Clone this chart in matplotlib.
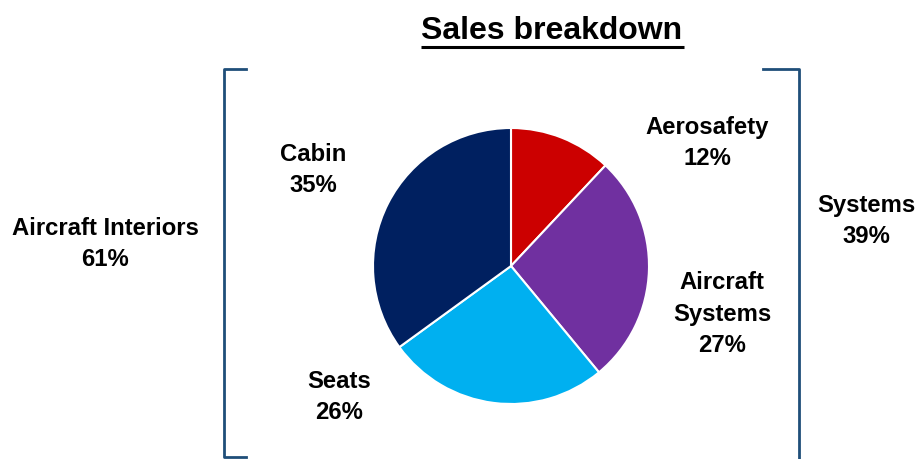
import matplotlib.pyplot as plt

plt.rcParams['font.family'] = ['Liberation Sans', 'DejaVu Sans']

# slices, clockwise from 12 o'clock
segments = ["Aerosafety", "Aircraft\nSystems", "Seats", "Cabin"]
shares = [12, 27, 26, 35]
colors = ["#CC0000", "#7030A0", "#00B0F0", "#002060"]

# group totals shown beside the brackets
groups = ["Aircraft Interiors", "Systems"]
group_shares = [61, 39]

W, H = 918, 459
fig = plt.figure(figsize=(W / 100, H / 100), dpi=100)
ax = fig.add_axes([0, 0, 1, 1])

cx, cy, r = 511, H - 266, 138
ax.pie(shares, colors=colors, startangle=90, counterclock=False,
       center=(cx, cy), radius=r,
       wedgeprops=dict(edgecolor="white", linewidth=1.5))

ax.set_xlim(0, W)
ax.set_ylim(0, H)
ax.set_aspect("equal")
ax.axis("off")

label_kw = dict(ha="center", va="center", fontsize=17.2,
                fontweight="bold", linespacing=1.45)

# segment labels (pixel positions from top-left)
seg_pos = [(707, 143), (722, 314), (339, 397), (313, 170)]
for name, val, (x, y) in zip(segments, shares, seg_pos):
    ax.text(x, H - y, f"{name}\n{val}%", **label_kw)

grp_pos = [(105, 244), (866, 221)]
for name, val, (x, y) in zip(groups, group_shares, grp_pos):
    ax.text(x, H - y, f"{name}\n{val}%", **label_kw)

# title with underline
ax.text(552, H - 39, "Sales breakdown", ha="center", va="baseline",
        fontsize=23, fontweight="bold")
ax.plot([421, 684], [H - 47, H - 47], color="black", lw=2.2,
        solid_capstyle="butt")

# brackets
bc = "#1F4E79"
ax.plot([246, 224, 224, 246], [H - 69, H - 69, H - 457, H - 457],
        color=bc, lw=2, solid_joinstyle="round")
ax.plot([763, 799, 799], [H - 69, H - 69, -5],
        color=bc, lw=2, solid_joinstyle="round")

fig.savefig("out.png", dpi=100)
